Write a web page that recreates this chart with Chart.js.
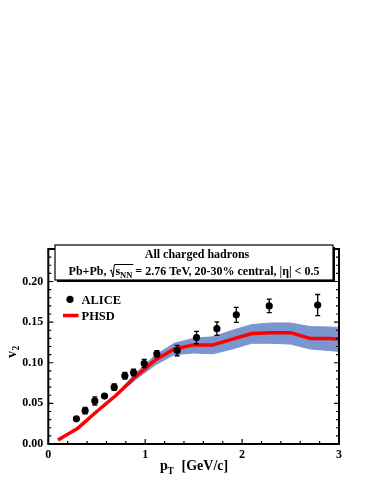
<!DOCTYPE html>
<html>
<head>
<meta charset="utf-8">
<script src="https://cdn.jsdelivr.net/npm/chart.js@4/dist/chart.umd.min.js"></script>
<style>
html,body{margin:0;padding:0;background:#fff;}
#wrap{width:374px;height:484px;position:relative;}
</style>
</head>
<body>
<div id="wrap"><canvas id="c" width="374" height="484"></canvas></div>
<script>
// ---- data ----
const alicePt   = [0.29, 0.38, 0.48, 0.58, 0.68, 0.79, 0.88, 0.99, 1.12, 1.33, 1.53, 1.74, 1.94, 2.28, 2.78];
const aliceV2   = [0.031, 0.041, 0.053, 0.059, 0.070, 0.084, 0.088, 0.099, 0.111, 0.115, 0.131, 0.142, 0.159, 0.170, 0.171];
const aliceErr  = [0.002, 0.004, 0.005, 0.002, 0.004, 0.004, 0.004, 0.005, 0.004, 0.0064, 0.0076, 0.0082, 0.0092, 0.0082, 0.013];

const phsdPt    = [0.1, 0.3, 0.5, 0.7, 0.9, 1.0, 1.1, 1.3, 1.5, 1.7, 1.9, 2.1, 2.3, 2.5, 2.7, 2.9, 3.0];
const phsdV2    = [0.005, 0.019, 0.040, 0.060, 0.083, 0.093, 0.103, 0.117, 0.122, 0.122, 0.129, 0.136, 0.137, 0.137, 0.130, 0.130, 0.129];
const phsdUpper = [0.005, 0.019, 0.040, 0.061, 0.087, 0.098, 0.109, 0.124, 0.130, 0.132, 0.140, 0.147, 0.149, 0.149, 0.1445, 0.144, 0.1435];
const phsdLower = [0.005, 0.019, 0.040, 0.059, 0.079, 0.088, 0.097, 0.110, 0.112, 0.111, 0.117, 0.124, 0.124, 0.123, 0.117, 0.115, 0.114];

const xTicks = [0, 1, 2, 3];
const yTicks = [0, 0.05, 0.10, 0.15, 0.20];
const xMinorStep = 0.2;
const yMinorStep = 0.01;

const titleLine1 = 'All charged hadrons';
const seriesNames = ['ALICE', 'PHSD'];

// ---- styling ----
const FONT = '"Liberation Serif", "Times New Roman", serif';
const BAND = '#7b95cf';
const RED = '#ff0000';

const pts = (xs, ys) => xs.map((x, i) => ({x: x, y: ys[i]}));

const decor = {
  id: 'decor',
  afterDatasetsDraw(chart) {
    const ctx = chart.ctx, xs = chart.scales.x, ys = chart.scales.y;
    // error bars
    ctx.save();
    ctx.strokeStyle = '#000';
    ctx.lineWidth = 1.3;
    alicePt.forEach((p, i) => {
      const px = xs.getPixelForValue(p);
      const y1 = ys.getPixelForValue(aliceV2[i] + aliceErr[i]);
      const y2 = ys.getPixelForValue(aliceV2[i] - aliceErr[i]);
      ctx.beginPath();
      ctx.moveTo(px, y1); ctx.lineTo(px, y2);
      ctx.moveTo(px - 2.5, y1); ctx.lineTo(px + 2.5, y1);
      ctx.moveTo(px - 2.5, y2); ctx.lineTo(px + 2.5, y2);
      ctx.stroke();
    });
    ctx.restore();
  },
  afterDraw(chart) {
    const ctx = chart.ctx, a = chart.chartArea, xs = chart.scales.x, ys = chart.scales.y;
    ctx.save();
    // frame
    ctx.strokeStyle = '#000';
    ctx.lineWidth = 2;
    ctx.strokeRect(a.left, a.top, a.right - a.left, a.bottom - a.top);
    // inward ticks
    ctx.lineWidth = 1.2;
    ctx.beginPath();
    for (let v = xs.min; v <= xs.max + 1e-9; v += xMinorStep) {
      const major = Math.abs(v - Math.round(v)) < 1e-6;
      const L = major ? 5 : 3;
      const px = xs.getPixelForValue(v);
      ctx.moveTo(px, a.bottom); ctx.lineTo(px, a.bottom - L);
      ctx.moveTo(px, a.top); ctx.lineTo(px, a.top + L);
    }
    for (let v = ys.min; v <= ys.max + 1e-9; v += yMinorStep) {
      const r = v / 0.05;
      const major = Math.abs(r - Math.round(r)) < 1e-6;
      const L = major ? 5 : 3;
      const py = ys.getPixelForValue(v);
      ctx.moveTo(a.left, py); ctx.lineTo(a.left + L, py);
      ctx.moveTo(a.right, py); ctx.lineTo(a.right - L, py);
    }
    ctx.stroke();

    // title box with shadow
    const bx = 55, by = 245, bw = 278, bh = 35;
    ctx.fillStyle = '#000';
    ctx.fillRect(bx + 2, by + 2, bw, bh);
    ctx.fillStyle = '#fff';
    ctx.fillRect(bx, by, bw, bh);
    ctx.lineWidth = 1.2;
    ctx.strokeRect(bx, by, bw, bh);

    ctx.fillStyle = '#000';
    ctx.textBaseline = 'alphabetic';
    ctx.font = 'bold 12px ' + FONT;
    ctx.textAlign = 'center';
    ctx.fillText(titleLine1, 197, 257.5);

    // second line with sqrt(s_NN)
    ctx.textAlign = 'left';
    const f12 = 'bold 12px ' + FONT, f8 = 'bold 8.5px ' + FONT;
    const parts1 = 'Pb+Pb, ';
    const partS = 's';
    const partSub = 'NN';
    const parts2 = ' = 2.76 TeV, 20-30% central, |\u03b7| < 0.5';
    ctx.font = f12;
    const w1 = ctx.measureText(parts1).width;
    const wS = ctx.measureText(partS).width;
    const w2 = ctx.measureText(parts2).width;
    ctx.font = f8;
    const wSub = ctx.measureText(partSub).width;
    const wRad = 6;
    const total = w1 + wRad + wS + wSub + w2;
    let x = 194 - total / 2;
    const base = 275;
    ctx.font = f12;
    ctx.fillText(parts1, x, base);
    x += w1;
    // radical sign
    ctx.lineWidth = 1;
    ctx.beginPath();
    ctx.moveTo(x + 0.5, base - 4);
    ctx.lineTo(x + 2, base - 5);
    ctx.lineTo(x + 3.5, base + 2);
    ctx.lineTo(x + 5, base - 10.5);
    ctx.lineTo(x + wRad + wS + wSub + 1, base - 10.5);
    ctx.stroke();
    x += wRad;
    ctx.fillText(partS, x, base);
    x += wS;
    ctx.font = f8;
    ctx.fillText(partSub, x, base + 3);
    x += wSub;
    ctx.font = f12;
    ctx.fillText(parts2, x, base);

    // legend
    ctx.fillStyle = '#000';
    ctx.beginPath();
    ctx.arc(70, 299.3, 3.6, 0, Math.PI * 2);
    ctx.fill();
    ctx.strokeStyle = RED;
    ctx.lineWidth = 3.5;
    ctx.beginPath();
    ctx.moveTo(63, 315.5); ctx.lineTo(78.5, 315.5);
    ctx.stroke();
    ctx.fillStyle = '#000';
    ctx.font = 'bold 12.5px ' + FONT;
    ctx.fillText(seriesNames[0], 81.5, 303.5);
    ctx.fillText(seriesNames[1], 81.5, 320);

    // axis titles
    ctx.font = 'bold 14px ' + FONT;
    ctx.fillText('p', 160, 470);
    ctx.font = 'bold 9.5px ' + FONT;
    ctx.fillText('T', 167.5, 474);
    ctx.font = 'bold 14px ' + FONT;
    ctx.fillText('[GeV/c]', 181.5, 470);

    ctx.save();
    ctx.translate(15.5, 358);
    ctx.rotate(-Math.PI / 2);
    ctx.font = 'bold 14px ' + FONT;
    ctx.fillText('v', 0, 0);
    ctx.font = 'bold 9.5px ' + FONT;
    ctx.fillText('2', 7.5, 3.5);
    ctx.restore();

    ctx.restore();
  }
};

new Chart(document.getElementById('c'), {
  type: 'line',
  data: {
    datasets: [
      {
        type: 'scatter', label: seriesNames[0],
        data: pts(alicePt, aliceV2),
        backgroundColor: '#000', borderColor: '#000',
        pointRadius: 3.6, pointBorderWidth: 0, showLine: false, order: 0
      },
      {
        label: seriesNames[1], data: pts(phsdPt, phsdV2),
        borderColor: RED, borderWidth: 3.5, pointRadius: 0, fill: false,
        tension: 0, order: 1, borderJoinStyle: 'round'
      },
      {
        label: 'upper', data: pts(phsdPt, phsdUpper),
        borderColor: BAND, borderWidth: 1, pointRadius: 0,
        backgroundColor: BAND, fill: '+1', tension: 0, order: 2
      },
      {
        label: 'lower', data: pts(phsdPt, phsdLower),
        borderColor: BAND, borderWidth: 1, pointRadius: 0, fill: false, tension: 0, order: 3
      }
    ]
  },
  options: {
    responsive: false,
    animation: false,
    devicePixelRatio: 1,
    layout: {padding: {top: 249, left: 0, right: 35, bottom: 0}},
    plugins: {legend: {display: false}, tooltip: {enabled: false}},
    scales: {
      x: {
        type: 'linear', min: 0, max: 3,
        afterBuildTicks: s => { s.ticks = xTicks.map(v => ({value: v})); },
        afterFit: s => { s.height = 40; },
        grid: {display: false, drawTicks: false},
        border: {display: false},
        ticks: {
          padding: 4, color: '#000',
          font: {family: FONT, size: 12, weight: 'bold'},
          callback: v => String(v), maxRotation: 0
        }
      },
      y: {
        type: 'linear', min: 0, max: 0.24,
        afterBuildTicks: s => { s.ticks = yTicks.map(v => ({value: v})); },
        afterFit: s => { s.width = 48.3; },
        grid: {display: false, drawTicks: false},
        border: {display: false},
        ticks: {
          padding: 5, color: '#000',
          font: {family: FONT, size: 12, weight: 'bold'},
          callback: v => Number(v).toFixed(2)
        }
      }
    }
  },
  plugins: [decor]
});
</script>
</body>
</html>
